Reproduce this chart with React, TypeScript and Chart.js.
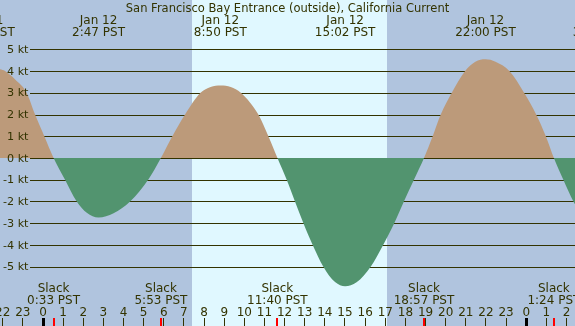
import React, { useEffect, useRef } from "react";
import { Chart, registerables } from "chart.js";

Chart.register(...registerables);

// ---- data (hours relative to Jan 12 00:00 PST, knots) ----
const CURVE_HOURS = [
  -4.0, -2.88, -2.11, -1.86, -1.37, -0.79, -0.37, 0.09, 0.55,
  1.12, 1.7, 2.2, 2.78, 3.53, 4.35, 5.25, 5.88,
  6.45, 7.08, 7.85, 8.35, 8.85, 9.35, 9.85, 10.72, 11.22, 11.67,
  12.13, 12.54, 12.96, 13.42, 13.95, 14.53, 15.03, 15.6, 16.3, 16.92, 17.47, 17.95, 18.45, 18.95,
  19.38, 19.78, 20.33, 20.99, 21.5, 22.0, 22.5, 23.19, 23.92, 24.52, 25.0, 25.4,
  25.87, 26.37, 27.2,
];
const CURVE_KNOTS = [
  3.7, 4.2, 4.08, 4.0, 3.62, 3.0, 2.0, 1.0, 0,
  -1, -2, -2.52, -2.74, -2.54, -2, -1, 0,
  1, 2, 3, 3.27, 3.34, 3.27, 3, 2, 1, 0,
  -1, -2, -3, -4, -5, -5.71, -5.9, -5.72, -5, -4, -3, -2, -1, 0,
  1, 2, 3, 4, 4.43, 4.54, 4.43, 4, 3, 2, 1, 0,
  -1, -2, -3.2,
];

const EVENT_HOURS = [-2.88, 2.783, 8.833, 15.033, 22.0, 27.65];
const EVENT_DATES = ["Jan 11", "Jan 12", "Jan 12", "Jan 12", "Jan 12", "Jan 13"];
const EVENT_TIMES = ["21:07 PST", "2:47 PST", "8:50 PST", "15:02 PST", "22:00 PST", "3:39 PST"];

const SLACK_HOURS = [0.55, 5.883, 11.667, 18.95, 25.4];
const SLACK_TIMES = ["0:33 PST", "5:53 PST", "11:40 PST", "18:57 PST", "1:24 PST"];

const SUNRISE = 7.44;
const SUNSET = 17.13;

const Y_TICKS = [5, 4, 3, 2, 1, 0, -1, -2, -3, -4, -5];
const HOUR_TICKS = [-2, -1, 0, 1, 2, 3, 4, 5, 6, 7, 8, 9, 10, 11, 12, 13, 14, 15, 16, 17, 18, 19, 20, 21, 22, 23, 24, 25, 26];

const TITLE = "San Francisco Bay Entrance (outside), California Current";

const X_MIN = -2.111;
const X_MAX = 26.449;
const Y_MIN = -7.73;
const Y_MAX = 7.27;

const BG = "#b0c4de";
const DAY = "#e0f8ff";
const FLOOD = "#bc9a7a";
const EBB = "#52946f";
const INK = "#333300";
const FONT = "DejaVu Sans";

export default function App() {
  const ref = useRef<HTMLCanvasElement | null>(null);

  useEffect(() => {
    const canvas = ref.current;
    if (!canvas) return;

    const backgroundPlugin = {
      id: "tideBackground",
      beforeDraw(chart: any) {
        const { ctx, scales } = chart;
        const xs = scales.x;
        const ys = scales.y;
        const w = chart.width;
        const h = chart.height;
        ctx.save();
        ctx.fillStyle = BG;
        ctx.fillRect(0, 0, w, h);
        const x0 = xs.getPixelForValue(SUNRISE);
        const x1 = xs.getPixelForValue(SUNSET);
        ctx.fillStyle = DAY;
        ctx.fillRect(Math.round(x0), 0, Math.round(x1) - Math.round(x0), h);
        ctx.fillStyle = INK;
        for (const v of Y_TICKS) {
          const y = Math.round(ys.getPixelForValue(v));
          ctx.fillRect(30, y, w - 30, 1);
        }
        ctx.restore();
      },
    };

    const labelsPlugin = {
      id: "tideLabels",
      afterDatasetsDraw(chart: any) {
        const { ctx, scales } = chart;
        const xs = scales.x;
        const ys = scales.y;
        ctx.save();
        ctx.fillStyle = INK;
        ctx.textAlign = "center";
        ctx.textBaseline = "alphabetic";

        ctx.font = `11.5px "${FONT}"`;
        ctx.fillText(TITLE, 287.5, 11.7);

        ctx.font = `12px "${FONT}"`;
        EVENT_HOURS.forEach((hr, i) => {
          const x = xs.getPixelForValue(hr);
          ctx.fillText(EVENT_DATES[i], x, 24);
          ctx.fillText(EVENT_TIMES[i], x, 36);
        });

        SLACK_HOURS.forEach((hr, i) => {
          const x = xs.getPixelForValue(hr);
          ctx.fillText("Slack", x, 291.7);
          ctx.fillText(SLACK_TIMES[i], x, 304.3);
        });

        HOUR_TICKS.forEach((hr) => {
          const x = xs.getPixelForValue(hr);
          const lab = String(((hr % 24) + 24) % 24);
          ctx.fillText(lab, x + 0.5, 316);
          const xi = Math.round(x);
          if (lab === "0") {
            ctx.fillStyle = "#000000";
            ctx.fillRect(xi - 1, 318, 3, 8);
            ctx.fillStyle = INK;
          } else {
            ctx.fillRect(xi, 318, 1, 8);
          }
        });

        ctx.fillStyle = "#ff0000";
        SLACK_HOURS.forEach((hr) => {
          const x = Math.round(xs.getPixelForValue(hr));
          ctx.fillRect(x - 1, 318, 2, 8);
        });

        ctx.fillStyle = INK;
        ctx.textAlign = "right";
        ctx.textBaseline = "middle";
        ctx.font = `11.2px "${FONT}"`;
        for (const v of Y_TICKS) {
          const y = ys.getPixelForValue(v);
          ctx.fillText(`${v} kt`, 28.5, y + 0.7);
        }
        ctx.restore();
      },
    };

    const chart = new Chart(canvas, {
      type: "line",
      data: {
        datasets: [
          {
            data: CURVE_HOURS.map((h, i) => ({ x: h, y: CURVE_KNOTS[i] })),
            borderWidth: 0,
            borderColor: "rgba(0,0,0,0)",
            pointRadius: 0,
            cubicInterpolationMode: "monotone",
            fill: { target: "origin", above: FLOOD, below: EBB },
          },
        ],
      },
      options: {
        responsive: false,
        animation: false,
        maintainAspectRatio: false,
        layout: { padding: 0 },
        plugins: { legend: { display: false }, tooltip: { enabled: false }, title: { display: false } },
        events: [],
        scales: {
          x: { type: "linear", min: X_MIN, max: X_MAX, display: false },
          y: { type: "linear", min: Y_MIN, max: Y_MAX, display: false },
        },
      },
      plugins: [backgroundPlugin, labelsPlugin],
    });

    return () => chart.destroy();
  }, []);

  return (
    <div style={{ position: "absolute", left: 0, top: 0, width: 575, height: 326 }}>
      <canvas ref={ref} width={575} height={326} style={{ display: "block", width: 575, height: 326 }} />
    </div>
  );
}
